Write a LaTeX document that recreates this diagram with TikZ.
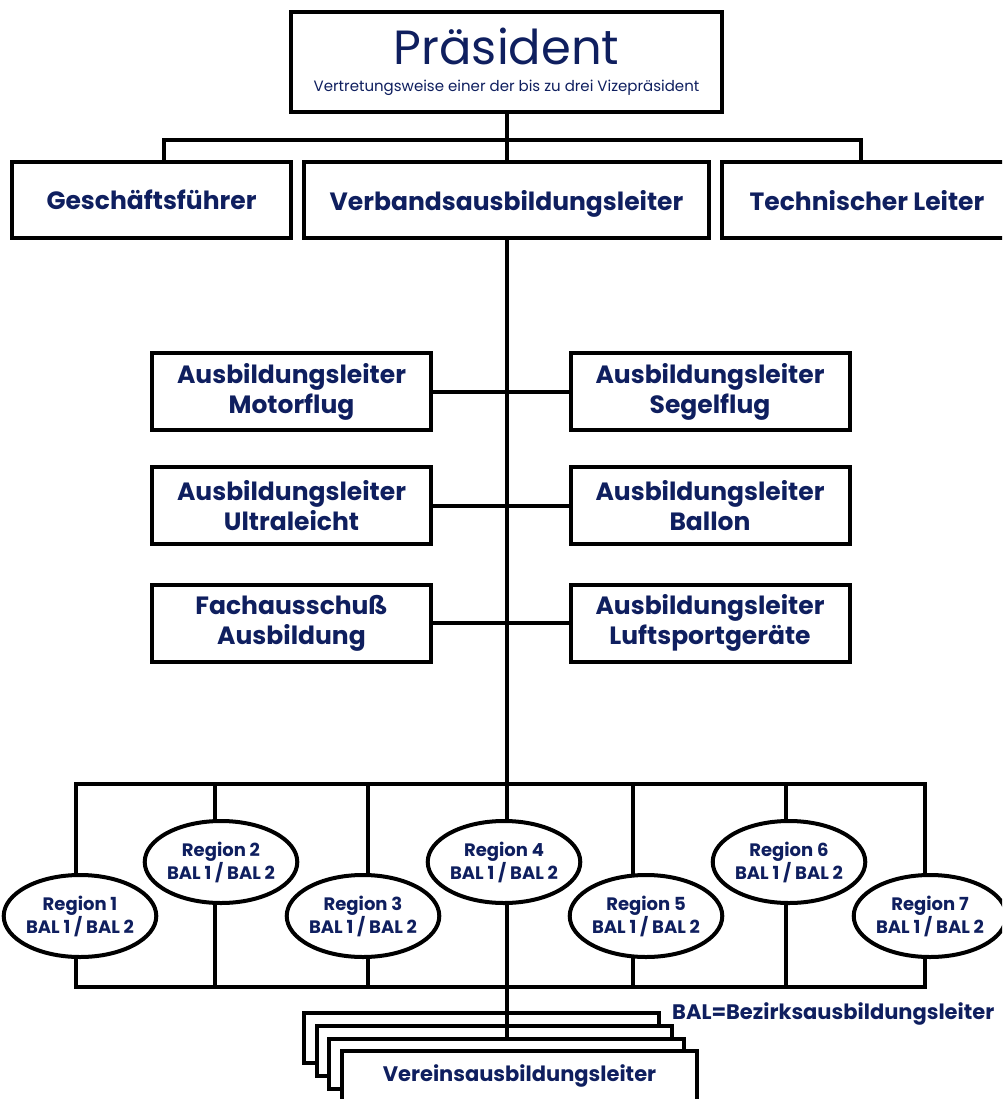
\documentclass[tikz,border=0pt]{standalone}
\usepackage{fontspec}
\usetikzlibrary{shapes.geometric}
\setmainfont{Poppins}
\definecolor{dmvblue}{HTML}{0F1F5F}

\begin{document}
\begin{tikzpicture}[x=1pt, y=-1pt,
    amt/.style={draw, line width=4pt, fill=white, text=dmvblue, align=center, inner sep=0pt,
      font=\bfseries\fontsize{25}{30}\selectfont},
    region/.style={ellipse, draw, line width=4pt, fill=white, text=dmvblue, align=center, inner sep=0pt,
      minimum width=144, minimum height=82, font=\bfseries\fontsize{18}{19}\selectfont},
    verbindung/.style={line width=4pt}]
    \clip (0,0) rectangle (1002,1099);

    % Praesidium und Leitung
    \node[amt, minimum width=431, minimum height=100, font=\fontsize{15}{18}\selectfont] (pr) at (506.5,62)
        {{\fontsize{48}{48}\selectfont Präsident}\\[9pt]Vertretungsweise einer der bis zu drei Vizepräsident};
    \node[amt, text depth=0pt, minimum width=279, minimum height=76] (gf) at (151.5,200) {Geschäftsführer};
    \node[amt, text depth=0pt, minimum width=405, minimum height=76] (vl) at (506.5,200) {Verbandsausbildungsleiter};
    \node[amt, text depth=0pt, minimum width=290, minimum height=76] (tl) at (867,200) {Technischer Leiter};

    \coordinate (bar) at (506.5,140);
    \draw[verbindung] ([xshift=12.5pt]gf.north) |- (bar) -| ([xshift=-6pt]tl.north);
    \draw[verbindung] (pr.south) -- (vl.north);

    % Sparten
    \node[amt, minimum width=279, minimum height=77] (mf) at (291.5,391.5) {Ausbildungsleiter\\Motorflug};
    \node[amt, minimum width=279, minimum height=77] (sf) at (710,391.5) {Ausbildungsleiter\\Segelflug};
    \node[amt, minimum width=279, minimum height=77] (ul) at (291.5,505.5) {Ausbildungsleiter\\Ultraleicht};
    \node[amt, minimum width=279, minimum height=77] (bl) at (710,505.5) {Ausbildungsleiter\\Ballon};
    \node[amt, minimum width=279, minimum height=77] (fa) at (291.5,623) {Fachausschuß\\Ausbildung};
    \node[amt, minimum width=279, minimum height=77] (lg) at (710,623) {Ausbildungsleiter\\Luftsportgeräte};

    \draw[verbindung] (mf.east) -- (sf.west);
    \draw[verbindung] (ul.east) -- (bl.west);
    \draw[verbindung] (fa.east) -- (lg.west);

    % Vereine
    \foreach \i/\x/\y in {1/481/1038, 2/494/1050.5, 3/506.5/1063.5} {
        \node[amt, minimum width=355, minimum height=50] (va\i) at (\x,\y) {};
    }
    \node[amt, minimum width=355, minimum height=50, font=\bfseries\fontsize{21}{25}\selectfont] (va4) at (519.5,1076)
        {Vereinsausbildungsleiter};
    \node[anchor=base west, inner sep=0pt, text=dmvblue, font=\bfseries\fontsize{21}{25}\selectfont] (legende) at (672,1019)
        {BAL=Bezirksausbildungsleiter};

    % Regionen
    \foreach \i/\lx in {1/76, 2/215, 3/368, 4/507, 5/633, 6/786, 7/925} {
        \coordinate (t\i) at (\lx,784);
        \coordinate (b\i) at (\lx,987);
    }
    \draw[verbindung] (t1) -- (t7) -- (b7) -- (b1) -- cycle;
    \foreach \i in {2,3,5,6} {
        \draw[verbindung] (t\i) -- (b\i);
    }
    \draw[verbindung] (vl.south) -- (va3.north);

    \foreach \i/\x/\y in {1/80/916, 2/221/862, 3/363/916, 4/504/862, 5/646/916, 6/789/862, 7/930/916} {
        \node[region] (r\i) at (\x,\y) {Region \i\\BAL 1 / BAL 2};
    }
\end{tikzpicture}
\end{document}
